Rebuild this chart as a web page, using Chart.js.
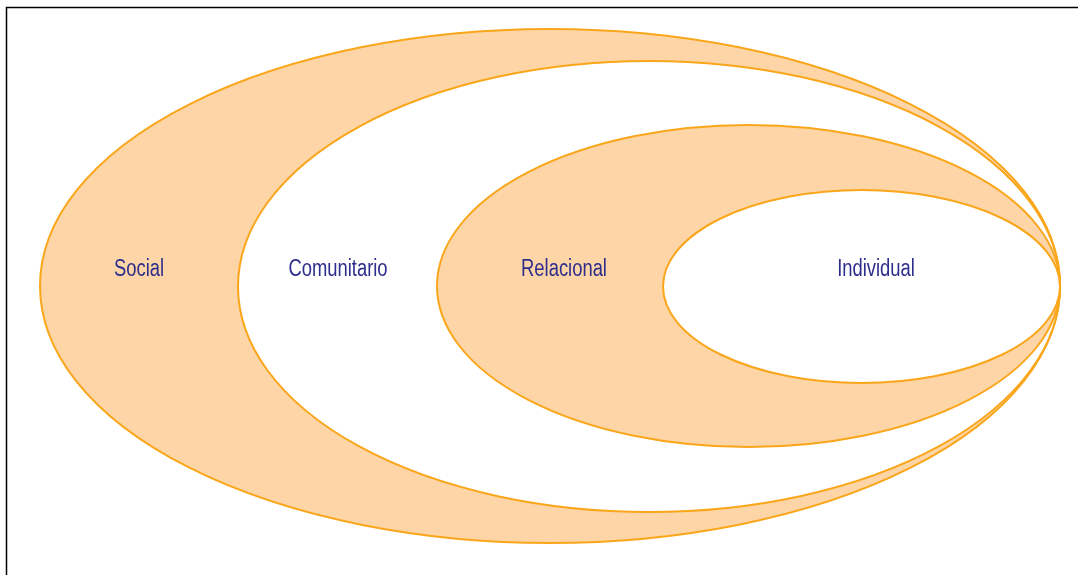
<!DOCTYPE html>
<html lang="es">
<head>
    <meta charset="utf-8">
    <title>Modelo ecológico</title>
    <script src="https://cdn.jsdelivr.net/npm/chart.js@4.4.1/dist/chart.umd.min.js"></script>
    <style>
        html, body { margin: 0; padding: 0; background: #fff; }
        #wrap { position: relative; width: 1078px; height: 575px; }
    </style>
</head>
<body>
<div id="wrap">
    <canvas id="myChart" width="1078" height="575"></canvas>
</div>
<script type="text/javascript">
    // levels, outer to inner
    var layers = ['Social', 'Comunitario', 'Relacional', 'Individual'];
    // ellipse extents in chart units
    var leftX = [40, 238, 437, 663];
    var rightX = [1060, 1060, 1060, 1060];
    var topY = [29, 61, 125, 190];
    var bottomY = [543, 512, 447, 383];
    // label anchors (text baseline)
    var labelX = [139, 338, 564, 876];
    var labelY = [276, 276, 276, 276];

    var orange = 'rgb(253, 213, 167)';
    var stroke = 'rgb(250, 166, 26)';
    var fills = [orange, '#ffffff', orange, '#ffffff'];

    var ellipses = {
        id: 'ellipses',
        beforeDatasetsDraw: function (chart) {
            var ctx = chart.ctx, x = chart.scales.x, y = chart.scales.y;
            ctx.save();
            for (var i = 0; i < layers.length; i++) {
                var x0 = x.getPixelForValue(leftX[i]), x1 = x.getPixelForValue(rightX[i]);
                var y0 = y.getPixelForValue(topY[i]), y1 = y.getPixelForValue(bottomY[i]);
                ctx.beginPath();
                ctx.ellipse((x0 + x1) / 2, (y0 + y1) / 2, Math.abs(x1 - x0) / 2, Math.abs(y1 - y0) / 2, 0, 0, Math.PI * 2);
                ctx.fillStyle = fills[i];
                ctx.fill();
                ctx.lineWidth = 2;
                ctx.strokeStyle = stroke;
                ctx.stroke();
            }
            // frame
            ctx.beginPath();
            ctx.moveTo(6.5, 575);
            ctx.lineTo(6.5, 7.5);
            ctx.lineTo(1078, 7.5);
            ctx.lineWidth = 1.5;
            ctx.strokeStyle = '#000';
            ctx.stroke();
            ctx.restore();
        },
        afterDatasetsDraw: function (chart) {
            var ctx = chart.ctx, meta = chart.getDatasetMeta(0);
            ctx.save();
            // narrow look: squeeze a regular sans horizontally
            ctx.font = "23px 'Liberation Sans', Arial, sans-serif";
            ctx.fillStyle = '#2d2d8c';
            ctx.textAlign = 'center';
            ctx.textBaseline = 'alphabetic';
            meta.data.forEach(function (pt, i) {
                ctx.save();
                ctx.translate(pt.x, pt.y);
                ctx.scale(0.8, 1);
                ctx.fillText(layers[i], 0, 0);
                ctx.restore();
            });
            ctx.restore();
        }
    };

    var ctx = document.getElementById('myChart');
    var chart = new Chart(ctx, {
        type: 'scatter',
        data: {
            datasets: [{
                label: 'Niveles',
                data: labelX.map(function (v, i) { return {x: v, y: labelY[i]}; }),
                pointRadius: 0,
                pointHoverRadius: 0
            }]
        },
        options: {
            responsive: false,
            animation: false,
            layout: {padding: 0},
            plugins: {legend: {display: false}, tooltip: {enabled: false}},
            scales: {
                x: {type: 'linear', min: 0, max: 1078, display: false},
                y: {type: 'linear', min: 0, max: 575, reverse: true, display: false}
            }
        },
        plugins: [ellipses]
    });
</script>
</body>
</html>
